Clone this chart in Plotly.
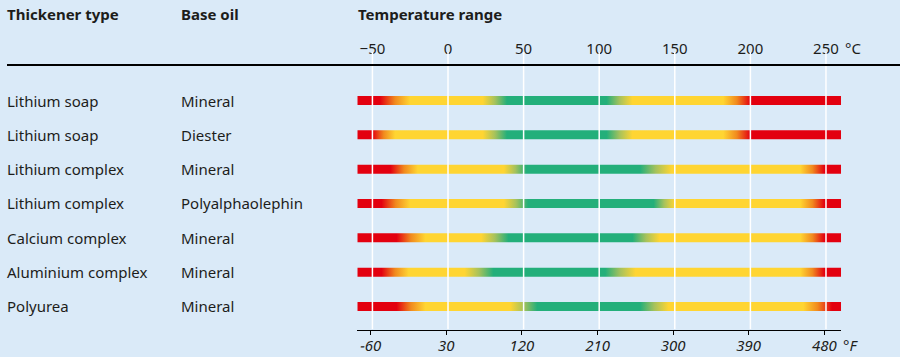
import plotly.graph_objects as go

# ---------------- data ----------------
thickener = ["Lithium soap", "Lithium soap", "Lithium complex", "Lithium complex",
             "Calcium complex", "Aluminium complex", "Polyurea"]
base_oil = ["Mineral", "Diester", "Mineral", "Polyalphaolephin",
            "Mineral", "Mineral", "Mineral"]

# temperature range of every bar (°C)
range_low = [-60, -60, -60, -60, -60, -60, -60]
range_high = [260, 260, 260, 260, 260, 260, 260]
# colour transition temperatures (°C)
red_low_end = [-45, -50, -38, -44, -34, -44, -34]        # solid red ends
yellow_low_start = [-25, -35, -20, -25, -15, -26, -15]   # solid yellow begins
yellow_low_end = [23, 23, 37, 37, 22, 11, 41]            # yellow fades to green
green_start = [39, 39, 52, 53, 40, 30, 59]               # solid green begins
green_end = [105, 105, 127, 136, 122, 104, 127]          # green fades to yellow
yellow_high_start = [122, 122, 148, 150, 140, 124, 146]  # solid yellow begins
yellow_high_end = [182, 182, 233, 233, 233, 233, 235]    # yellow fades to red
red_high_start = [200, 200, 249, 249, 249, 249, 254]     # solid red begins

c_ticks = [-50, 0, 50, 100, 150, 200, 250]
c_labels = ["\u221250", "0", "50", "100", "150", "200", "250"]
f_ticks = [-60, 30, 120, 210, 300, 390, 480]
f_labels = ["\u221260", "30", "120", "210", "300", "390", "480"]

# ---------------- style ----------------
BG = "#DAEAF8"
TXT = "#1d1d1b"
RED = "#E3000F"
ORANGE = "#F18A1E"
YELLOW = "#FFD532"
OLIVE = "#A6C25C"
GREEN = "#23AF7A"
FONT = "Noto Sans"
FS = 15
W, H = 900, 357
HALF = 0.131  # half bar thickness in row units

X0C, X1C = -60, 260
dom = [357.3 / W, 841.1 / W]

fig = go.Figure()

for i in range(len(thickener)):
    lo, hi = range_low[i], range_high[i]

    def f(t):
        return (t - lo) / (hi - lo)

    stops = [
        (lo, RED), (red_low_end[i], RED),
        ((red_low_end[i] + yellow_low_start[i]) / 2, ORANGE),
        (yellow_low_start[i], YELLOW), (yellow_low_end[i], YELLOW),
        ((yellow_low_end[i] + green_start[i]) / 2, OLIVE),
        (green_start[i], GREEN), (green_end[i], GREEN),
        ((green_end[i] + yellow_high_start[i]) / 2, OLIVE),
        (yellow_high_start[i], YELLOW), (yellow_high_end[i], YELLOW),
        ((yellow_high_end[i] + red_high_start[i]) / 2, ORANGE),
        (red_high_start[i], RED), (hi, RED),
    ]
    cs = [[f(t), c] for t, c in stops]
    fig.add_trace(go.Scatter(
        x=[lo, hi, hi, lo, lo],
        y=[i - HALF, i - HALF, i + HALF, i + HALF, i - HALF],
        mode="lines", line=dict(width=0), fill="toself",
        fillgradient=dict(type="horizontal", colorscale=cs, start=lo, stop=hi),
        hoverinfo="skip", showlegend=False, xaxis="x", yaxis="y",
    ))

# invisible trace to materialise the Fahrenheit axis
fig.add_trace(go.Scatter(x=[f_ticks[0], f_ticks[-1]], y=[0, 0], mode="markers",
                         marker=dict(opacity=0), hoverinfo="skip",
                         showlegend=False, xaxis="x2", yaxis="y"))

def py(px):
    return 1 - px / H

# row label columns
for i in range(len(thickener)):
    fig.add_annotation(x=5 / W, xref="paper", y=i, yref="y", text=thickener[i],
                       xanchor="left", yanchor="middle", showarrow=False,
                       font=dict(family=FONT, size=FS, color=TXT))
    fig.add_annotation(x=179 / W, xref="paper", y=i, yref="y", text=base_oil[i],
                       xanchor="left", yanchor="middle", showarrow=False,
                       font=dict(family=FONT, size=FS, color=TXT))

# headers
for xpx, t in [(5, "Thickener type"), (179, "Base oil"), (356, "Temperature range")]:
    fig.add_annotation(x=xpx / W, xref="paper", y=py(14), yref="paper",
                       text="<b>" + t + "</b>", xanchor="left", yanchor="middle",
                       showarrow=False, font=dict(family=FONT, size=FS, color=TXT))

# unit labels
fig.add_annotation(x=X1C, xref="x", y=py(48), yref="paper", text="\u00b0C",
                   xanchor="left", yanchor="middle", xshift=2, showarrow=False,
                   font=dict(family=FONT, size=FS, color=TXT))
fig.add_annotation(x=X1C, xref="x", y=py(345), yref="paper", text="\u00b0F",
                   xanchor="left", yanchor="middle", xshift=0, showarrow=False,
                   font=dict(family=FONT, size=FS, color=TXT, style="italic"))

# white gridlines above the bars
for t in c_ticks:
    fig.add_shape(type="line", xref="x", x0=t, x1=t, yref="paper",
                  y0=py(329), y1=py(52), line=dict(color="white", width=1.5),
                  layer="above")

# black rule under the header
fig.add_shape(type="line", xref="paper", x0=7 / W, x1=1, yref="paper",
              y0=py(65), y1=py(65), line=dict(color="black", width=2),
              layer="above")

ROW_PX = 34.33
y_top = -100.5 / ROW_PX
y_bot = (H - 100.5) / ROW_PX

fig.update_layout(
    width=W, height=H,
    margin=dict(l=0, r=0, t=0, b=0),
    paper_bgcolor=BG, plot_bgcolor=BG,
    showlegend=False,
    xaxis=dict(domain=dom, range=[X0C, X1C], side="top", anchor="free",
               position=py(57), tickvals=c_ticks, ticktext=c_labels,
               showgrid=False, zeroline=False, showline=False, ticks="",
               tickfont=dict(family=FONT, size=FS, color=TXT), fixedrange=True),
    xaxis2=dict(domain=dom, range=[X0C * 9 / 5 + 32, X1C * 9 / 5 + 32],
                overlaying="x", side="bottom", anchor="free", position=py(329.5),
                tickvals=f_ticks, ticktext=f_labels, ticklabelstandoff=-2,
                showgrid=False, zeroline=False, showline=True,
                linecolor="black", linewidth=1.5,
                ticks="outside", ticklen=4, tickcolor="black", tickwidth=1,
                tickfont=dict(family=FONT, size=FS, color=TXT, style="italic"),
                fixedrange=True),
    yaxis=dict(domain=[0, 1], range=[y_bot, y_top], visible=False,
               fixedrange=True),
)

fig.write_html(
    "out.html",
    config={"displayModeBar": False, "staticPlot": True},
    post_script="document.body.style.margin='0';document.body.style.overflow='hidden';",
)
